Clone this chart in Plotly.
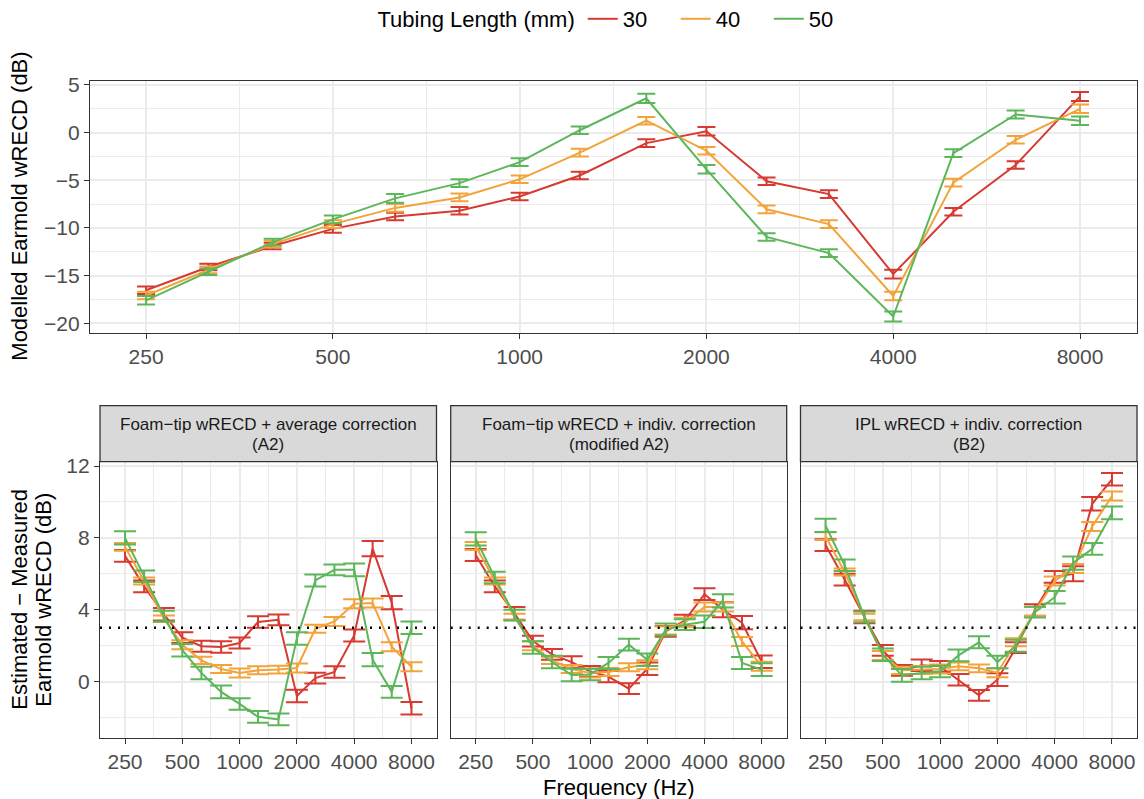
import plotly.graph_objects as go
import math

# One-third-octave centre frequencies (Hz)
freqs = [250, 315, 400, 500, 630, 800, 1000, 1250, 1600, 2000, 2500, 3150, 4000, 5000, 6300, 8000]
tubing = ["30", "40", "50"]
colors = {"30": "#D63A31", "40": "#F2A33A", "50": "#5CB65A"}

# Modelled earmold wRECD (dB) and error half-widths
modelled = {
    "30": [-16.55, -14.1, -11.9, -10.1, -8.8, -8.2, -6.7, -4.5, -1.1, 0.15, -5.1, -6.45, -14.85, -8.3, -3.4, 3.8],
    "40": [-17.1, -14.4, -11.7, -9.6, -7.9, -6.8, -4.9, -2.1, 1.25, -1.9, -8.05, -9.6, -17.15, -5.25, -0.75, 2.5],
    "50": [-17.6, -14.6, -11.5, -9.1, -6.9, -5.3, -3.1, 0.25, 3.6, -3.85, -10.95, -12.65, -19.3, -2.15, 1.9, 1.25],
}
modelled_err = {
    "30": [0.4, 0.35, 0.35, 0.4, 0.4, 0.4, 0.4, 0.4, 0.4, 0.45, 0.4, 0.4, 0.45, 0.4, 0.4, 0.47],
    "40": [0.4, 0.35, 0.35, 0.4, 0.4, 0.4, 0.4, 0.4, 0.4, 0.4, 0.4, 0.4, 0.45, 0.4, 0.4, 0.45],
    "50": [0.45, 0.35, 0.35, 0.4, 0.45, 0.4, 0.4, 0.4, 0.49, 0.45, 0.4, 0.4, 0.52, 0.4, 0.42, 0.45],
}

# Estimated - measured earmold wRECD (dB), one dict per correction method
panel_titles = [
    ("Foam\u2212tip wRECD + average correction", "(A2)"),
    ("Foam\u2212tip wRECD + indiv. correction", "(modified A2)"),
    ("IPL wRECD + indiv. correction", "(B2)"),
]
diff_a2 = {
    "30": [7.0, 5.3, 3.75, 2.45, 1.97, 1.93, 2.15, 3.32, 3.44, -0.8, 0.2, 0.54, 2.57, 7.4, 4.4, -1.48],
    "40": [7.5, 5.6, 3.5, 2.05, 1.18, 0.7, 0.48, 0.63, 0.67, 0.76, 2.94, 3.35, 4.33, 4.37, 1.94, 0.83],
    "50": [8.0, 5.87, 3.65, 1.75, 0.48, -0.57, -1.24, -1.96, -2.1, 2.4, 5.63, 6.22, 6.22, 1.22, -0.57, 3.0],
}
diff_mod_a2 = {
    "30": [7.05, 5.3, 3.8, 2.26, 1.52, 1.09, 0.57, 0.28, -0.39, 0.72, 2.8, 3.4, 4.87, 4.0, 3.28, 1.11],
    "40": [7.55, 5.6, 3.6, 2.0, 1.18, 0.7, 0.48, 0.54, 0.8, 0.94, 2.85, 3.3, 4.15, 4.15, 2.24, 0.85],
    "50": [7.95, 5.8, 3.7, 1.9, 1.09, 0.37, 0.4, 1.04, 2.06, 1.22, 2.9, 3.17, 3.33, 4.5, 1.04, 0.67],
}
diff_b2 = {
    "30": [7.6, 5.68, 3.6, 1.74, 0.63, 0.91, 0.85, 0.11, -0.76, 0.11, 1.89, 3.98, 5.83, 6.0, 9.9, 11.26],
    "40": [8.1, 6.1, 3.6, 1.46, 0.63, 0.65, 0.7, 0.85, 0.74, 0.5, 2.19, 3.9, 5.6, 6.3, 8.63, 10.33],
    "50": [8.7, 6.48, 3.6, 1.5, 0.35, 0.48, 0.56, 1.46, 2.19, 1.09, 2.0, 3.87, 4.7, 6.6, 7.39, 9.39],
}
diff_err = {
    "30": [0.33, 0.33, 0.35, 0.3, 0.3, 0.32, 0.3, 0.32, 0.3, 0.35, 0.3, 0.32, 0.33, 0.42, 0.37, 0.35],
    "40": [0.22, 0.2, 0.18, 0.25, 0.2, 0.22, 0.25, 0.22, 0.22, 0.25, 0.22, 0.25, 0.25, 0.25, 0.25, 0.25],
    "50": [0.37, 0.32, 0.3, 0.35, 0.35, 0.35, 0.32, 0.33, 0.33, 0.35, 0.33, 0.3, 0.35, 0.37, 0.33, 0.35],
}
panels = [diff_a2, diff_mod_a2, diff_b2]

x_ticks = [250, 500, 1000, 2000, 4000, 8000]
x_ticktext = ["250", "500", "1000", "2000", "4000", "8000"]
x_minor = [353.6, 707.1, 1414.2, 2828.4, 5656.9]
top_y_ticks = [-20, -15, -10, -5, 0, 5]
top_y_ticktext = ["\u221220", "\u221215", "\u221210", "\u22125", "0", "5"]
top_y_minor = [-17.5, -12.5, -7.5, -2.5, 2.5]
bot_y_ticks = [0, 4, 8, 12]
bot_y_ticktext = ["0", "4", "8", "12"]
bot_y_minor = [-2, 2, 6, 10]
reference_level = 3

W, H = 1144, 799
FONT = "Liberation Sans, Arial, sans-serif"
GRID = "#EBEBEB"
BORDER = "#333333"
TICKCOL = "#4D4D4D"
TICK_SIZE = 21
TITLE_SIZE = 22
STRIP_SIZE = 17


def px_x(p):
    return p / W


def px_y(p):
    return 1 - p / H


fig = go.Figure()

# Top panel: modelled wRECD
for t in tubing:
    fig.add_trace(go.Scatter(
        x=freqs, y=modelled[t], mode="lines", name=t,
        line=dict(color=colors[t], width=2),
        error_y=dict(type="data", array=modelled_err[t], color=colors[t], thickness=2, width=9),
        xaxis="x", yaxis="y", legendgroup=t, showlegend=True,
    ))

# Bottom panels: estimated - measured
for i, data in enumerate(panels):
    ax = str(i + 2)
    for t in tubing:
        fig.add_trace(go.Scatter(
            x=freqs, y=data[t], mode="lines", name=t,
            line=dict(color=colors[t], width=2),
            error_y=dict(type="data", array=diff_err[t], color=colors[t], thickness=2, width=11),
            xaxis="x" + ax, yaxis="y" + ax, legendgroup=t, showlegend=False,
        ))

lg2 = math.log10(2)
top_xrange = [math.log10(250) - 0.3 * lg2, math.log10(8000) + 0.305 * lg2]
bot_xrange = [math.log10(250) - 0.437 * lg2, math.log10(8000) + 0.437 * lg2]

common_x = dict(
    type="log", tickvals=x_ticks, ticktext=x_ticktext,
    showgrid=True, gridcolor=GRID, gridwidth=1.6,
    minor=dict(tickvals=x_minor, showgrid=True, gridcolor=GRID, gridwidth=0.8, ticklen=0),
    showline=True, linecolor=BORDER, linewidth=1.3, mirror=True,
    ticks="outside", ticklen=5, tickwidth=1.3, tickcolor=BORDER,
    tickfont=dict(family=FONT, size=TICK_SIZE, color=TICKCOL), zeroline=False,
)
common_y = dict(
    showgrid=True, gridcolor=GRID, gridwidth=1.6,
    showline=True, linecolor=BORDER, linewidth=1.3, mirror=True,
    ticks="outside", ticklen=5, tickwidth=1.3, tickcolor=BORDER,
    tickfont=dict(family=FONT, size=TICK_SIZE, color=TICKCOL), zeroline=False,
)

top_dom_y = [px_y(332.7), px_y(80.7)]
bot_dom_y = [px_y(737.7), px_y(461.7)]
panel_px = [(100, 436.5), (450.7, 786.7), (800.5, 1137)]

layout = dict(
    width=W, height=H,
    margin=dict(l=0, r=0, t=0, b=0, autoexpand=False),
    paper_bgcolor="white", plot_bgcolor="white",
    font=dict(family=FONT, color="#1A1A1A"),
    xaxis=dict(common_x, domain=[px_x(90), px_x(1137)], range=top_xrange, anchor="y"),
    yaxis=dict(common_y, domain=top_dom_y, range=[-21.0, 5.45], tickvals=top_y_ticks,
               ticktext=top_y_ticktext,
               minor=dict(tickvals=top_y_minor, showgrid=True, gridcolor=GRID, gridwidth=0.8, ticklen=0),
               anchor="x"),
)
for i, (a, b) in enumerate(panel_px):
    n = str(i + 2)
    layout["xaxis" + n] = dict(common_x, domain=[px_x(a), px_x(b)], range=bot_xrange, anchor="y" + n)
    ydict = dict(common_y, domain=bot_dom_y, range=[-3.12, 12.24], tickvals=bot_y_ticks,
                 ticktext=bot_y_ticktext,
                 minor=dict(tickvals=bot_y_minor, showgrid=True, gridcolor=GRID, gridwidth=0.8, ticklen=0),
                 anchor="x" + n)
    if i > 0:
        ydict.update(matches="y2", showticklabels=False, ticks="")
    layout["yaxis" + n] = ydict

fig.update_layout(**layout)

# Facet strips and the reference level line in each panel
for i, (a, b) in enumerate(panel_px):
    n = str(i + 2)
    fig.add_shape(type="rect", xref="paper", yref="paper",
                  x0=px_x(a), x1=px_x(b), y0=px_y(461.7), y1=px_y(405.7),
                  fillcolor="#D9D9D9", line=dict(color=BORDER, width=1.3), layer="above")
    line1, line2 = panel_titles[i]
    for txt, yy in ((line1, 424.5), (line2, 444.5)):
        fig.add_annotation(xref="paper", yref="paper", x=px_x((a + b) / 2), y=px_y(yy),
                           text=txt, showarrow=False, xanchor="center", yanchor="middle",
                           font=dict(family=FONT, size=STRIP_SIZE, color="#1A1A1A"))
    fig.add_shape(type="line", xref="x" + n + " domain", yref="y" + n,
                  x0=0, x1=1, y0=reference_level, y1=reference_level,
                  line=dict(color="black", width=2.3, dash="2px,7px"), layer="above")

# Axis titles
fig.add_annotation(xref="paper", yref="paper", x=px_x(20), y=px_y(206.7),
                   text="Modelled Earmold wRECD (dB)", textangle=-90, showarrow=False,
                   xanchor="center", yanchor="middle", font=dict(family=FONT, size=TITLE_SIZE, color="black"))
for txt, xx in (("Estimated \u2212 Measured", 20), ("Earmold wRECD (dB)", 44)):
    fig.add_annotation(xref="paper", yref="paper", x=px_x(xx), y=px_y(599.7),
                       text=txt, textangle=-90, showarrow=False,
                       xanchor="center", yanchor="middle", font=dict(family=FONT, size=TITLE_SIZE, color="black"))
fig.add_annotation(xref="paper", yref="paper", x=px_x(618.5), y=px_y(787),
                   text="Frequency (Hz)", showarrow=False,
                   xanchor="center", yanchor="middle", font=dict(family=FONT, size=TITLE_SIZE, color="black"))

fig.update_layout(legend=dict(
    orientation="h", xref="container", yref="container",
    x=px_x(619), xanchor="center", y=px_y(19), yanchor="middle",
    title=dict(text="Tubing Length (mm)", side="left", font=dict(family=FONT, size=TITLE_SIZE, color="black")),
    font=dict(family=FONT, size=TITLE_SIZE, color="black"), bgcolor="rgba(0,0,0,0)",
    itemwidth=30, entrywidth=48, entrywidthmode="pixels",
))

fig.write_html("out.html")
